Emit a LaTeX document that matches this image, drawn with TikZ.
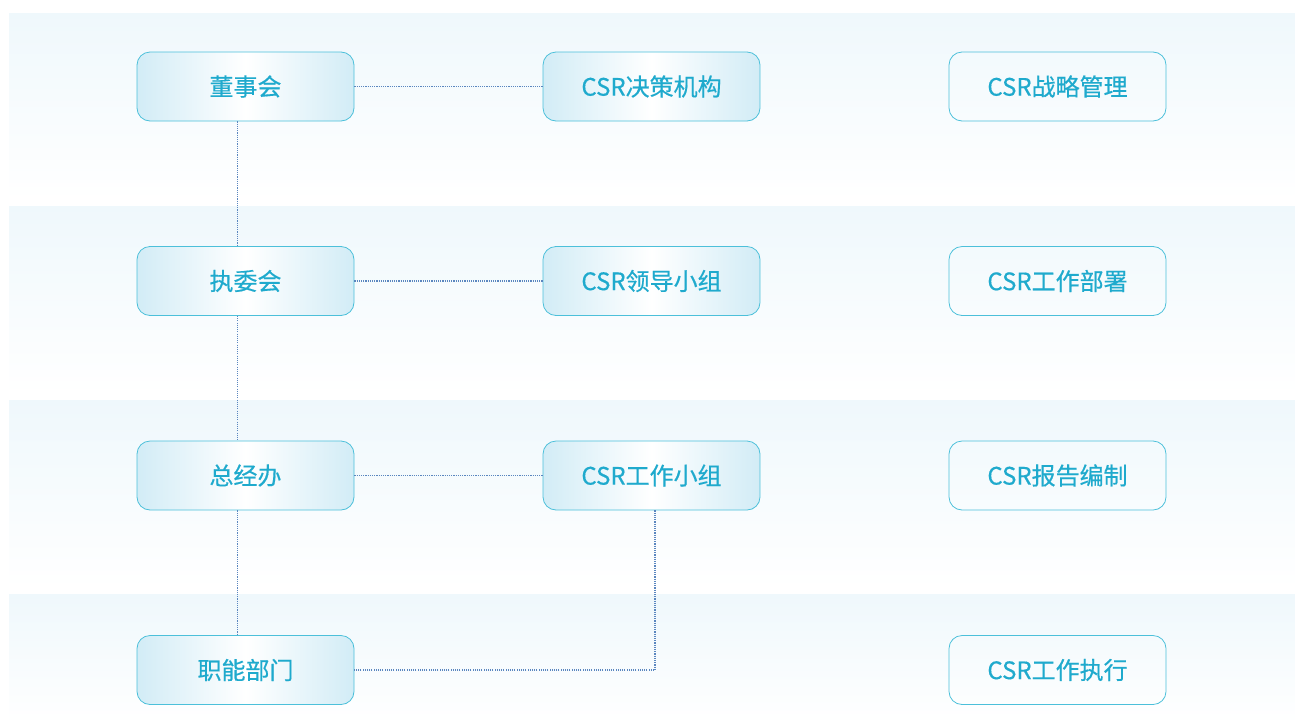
\documentclass[tikz,border=0pt]{standalone}
\usepackage{fontspec}
\setmainfont{Noto Sans CJK SC}[UprightFeatures={FakeBold=0.5}]
\definecolor{bandc}{HTML}{EFF8FC}
\definecolor{edgec}{HTML}{4CC0DA}
\definecolor{txtc}{HTML}{1FAACD}
\definecolor{fillc}{HTML}{D2ECF6}
\definecolor{linec}{HTML}{5A86BF}
\tikzset{
  band/.style={draw=none, top color=bandc, bottom color=white},
  box/.style={draw=edgec, line width=0.8pt, rounded corners=13pt, minimum width=217pt, minimum height=69pt, text=txtc, font=\fontsize{24}{28}\selectfont, inner sep=0pt},
  filledbox/.style={box, shading=axis, left color=fillc, right color=fillc, middle color=white},
  link/.style={draw=linec, line width=1.1pt, dash pattern=on 1.1pt off 1.1pt}
}
\begin{document}
\begin{tikzpicture}[x=1pt,y=-1pt]
\useasboundingbox (0,0) rectangle (1295,723);
\fill[white] (0,0) rectangle (1295,723);
\shade[band] (9,13) rectangle (1295,200);
\shade[band] (9,206) rectangle (1295,394);
\shade[band] (9,400) rectangle (1295,588);
\shade[band] (9,594) rectangle (1295,723);
% left column
\node[filledbox] (a1) at (245.5,86.5) {董事会};
\node[filledbox] (a2) at (245.5,281) {执委会};
\node[filledbox] (a3) at (245.5,475.5) {总经办};
\node[filledbox] (a4) at (245.5,670) {职能部门};
% middle column
\node[filledbox] (b1) at (651.5,86.5) {CSR决策机构};
\node[filledbox] (b2) at (651.5,281) {CSR领导小组};
\node[filledbox] (b3) at (651.5,475.5) {CSR工作小组};
% right column
\node[box] (c1) at (1057.5,86.5) {CSR战略管理};
\node[box] (c2) at (1057.5,281) {CSR工作部署};
\node[box] (c3) at (1057.5,475.5) {CSR报告编制};
\node[box] (c4) at (1057.5,670) {CSR工作执行};
% connectors
\draw[link] (a1.east) -- (b1.west);
\draw[link] (a2.east) -- (b2.west);
\draw[link] (a3.east) -- (b3.west);
\draw[link] ([xshift=-8pt]a1.south) -- ([xshift=-8pt]a2.north);
\draw[link] ([xshift=-8pt]a2.south) -- ([xshift=-8pt]a3.north);
\draw[link] ([xshift=-8pt]a3.south) -- ([xshift=-8pt]a4.north);
\coordinate (k) at ([xshift=3.5pt]b3.south |- a4.east);
\draw[link] ([xshift=3.5pt]b3.south) -- (k) -- (a4.east);
\end{tikzpicture}
\end{document}
